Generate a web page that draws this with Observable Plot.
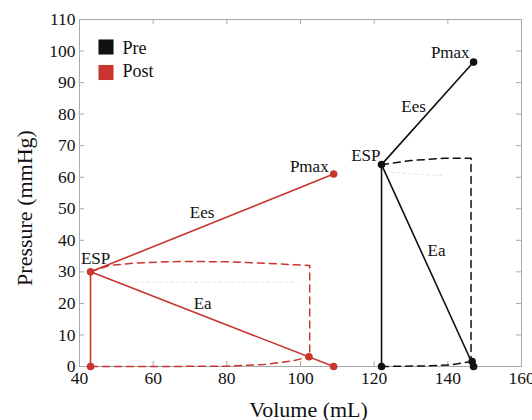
<!DOCTYPE html>
<html><head><meta charset="utf-8">
<script src="https://cdn.jsdelivr.net/npm/d3@7"></script>
<script src="https://cdn.jsdelivr.net/npm/@observablehq/plot@0.6"></script>
<style>body{margin:0;background:#fff}</style>
</head><body><div id="chart"></div>
<script>
const seriesNames = ["Pre", "Post"];
const seriesColors = ["#111111", "#c8362f"];
const xTicks = [40, 60, 80, 100, 120, 140, 160];
const yTicks = [0, 10, 20, 30, 40, 50, 60, 70, 80, 90, 100, 110];

// Pre (black)
const preESP = [122, 64];
const prePmax = [147, 96.5];
const preEaEnd = [147, 0];
const preBase = [122, 0];
const preEdv = [146.6, 1.6];
const preDashTop = [[122, 64], [130, 65.3], [139, 66], [146.3, 66], [146.3, 1.6]];
const preDashBottom = [[122, 0], [134, 0.2], [141, 0.5], [146.3, 1.6]];
const preFaint = [[124.5, 61.6], [132, 60.9], [139, 60.5]];

// Post (red)
const postESP = [43, 30];
const postPmax = [109, 61];
const postEaEnd = [109, 0];
const postBase = [43, 0];
const postEdv = [102.3, 3.1];
const postDashTop = [[43, 30], [48, 32], [55, 32.8], [67, 33.3], [80, 33.2], [91, 32.7], [102.5, 32], [102.5, 3.1]];
const postDashBottom = [[43, 0], [60, 0], [80, 0.1], [90, 0.6], [98, 1.8], [102.5, 3.1]];
const postFaint = [[55, 26.8], [75, 26.6], [99, 26.8]];

const S = {
  Pre: {esp: preESP, pmax: prePmax, eaEnd: preEaEnd, base: preBase, edv: preEdv, top: preDashTop, bottom: preDashBottom, faint: preFaint},
  Post: {esp: postESP, pmax: postPmax, eaEnd: postEaEnd, base: postBase, edv: postEdv, top: postDashTop, bottom: postDashBottom, faint: postFaint}
};

const solid = [], dashed = [], faint = [], points = [], labels = [];
for (const s of seriesNames) {
  const d = S[s];
  [["ees", [d.esp, d.pmax]], ["ea", [d.esp, d.eaEnd]], ["vert", [d.esp, d.base]]].forEach(([k, seg]) =>
    seg.forEach(p => solid.push({series: s, id: s + k, x: p[0], y: p[1]})));
  d.top.forEach(p => dashed.push({series: s, id: s + "top", x: p[0], y: p[1]}));
  d.bottom.forEach(p => dashed.push({series: s, id: s + "bot", x: p[0], y: p[1]}));
  d.faint.forEach(p => faint.push({series: s, id: s + "f", x: p[0], y: p[1]}));
  [d.esp, d.base, d.pmax, d.edv, d.eaEnd].forEach(p => points.push({series: s, x: p[0], y: p[1]}));
  labels.push({series: s, name: "Pmax", x: d.pmax[0], y: d.pmax[1]});
  labels.push({series: s, name: "ESP", x: d.esp[0], y: d.esp[1]});
  labels.push({series: s, name: "Ees", x: (d.esp[0] + d.pmax[0]) / 2, y: (d.esp[1] + d.pmax[1]) / 2});
  labels.push({series: s, name: "Ea", x: (d.esp[0] + d.eaEnd[0]) / 2, y: (d.esp[1] + d.eaEnd[1]) / 2});
}

const W = 532, H = 420, mL = 79, mR = 11, mT = 19, mB = 54;
const fw = W - mL - mR, fh = H - mT - mB;
const font = "'Liberation Serif', 'Times New Roman', serif";

function lab(series, name, opts) {
  return Plot.text(labels.filter(d => d.series === series && d.name === name),
    {x: "x", y: "y", text: "name", fontSize: 17, fill: "#111", lineAnchor: "middle", ...opts});
}
function legendItem(i) {
  const name = seriesNames[i];
  return [
    Plot.dot([name], {frameAnchor: "top-left", dx: 26.5, dy: 27.5 + 25.5 * i, symbol: "square", r: 8.5, fill: seriesColors[i]}),
    Plot.text([name], {frameAnchor: "top-left", dx: 43, dy: 28.5 + 23.5 * i, text: d => d, fontSize: 18, fill: "#111", textAnchor: "start", lineAnchor: "middle"})
  ];
}

const chart = Plot.plot({
  width: W, height: H,
  marginLeft: mL, marginRight: mR, marginTop: mT, marginBottom: mB,
  style: {fontFamily: font, fontSize: "17px", background: "#fff", color: "#111"},
  x: {domain: [40, 160], axis: null},
  y: {domain: [0, 110], axis: null},
  color: {domain: seriesNames, range: seriesColors},
  marks: [
    Plot.frame({stroke: "#aaa"}),
    Plot.text(xTicks, {x: d => d, frameAnchor: "bottom", dy: 5, text: d => String(d), fontSize: 17.5, fill: "#111", textAnchor: "middle", lineAnchor: "top"}),
    Plot.text(yTicks, {y: d => d, frameAnchor: "left", dx: -4, text: d => String(d), fontSize: 17.5, fill: "#111", textAnchor: "end", lineAnchor: "middle"}),
    Plot.tickY(yTicks, {y: d => d, insetRight: fw - 5, stroke: "#aaa"}),
    Plot.tickY(yTicks, {y: d => d, insetLeft: fw - 5, stroke: "#aaa"}),
    Plot.tickX(xTicks, {x: d => d, insetTop: fh - 5, stroke: "#aaa"}),
    Plot.tickX(xTicks, {x: d => d, insetBottom: fh - 5, stroke: "#aaa"}),
    Plot.line(faint, {x: "x", y: "y", z: "id", stroke: "#e4e4e4", strokeWidth: 1, strokeDasharray: "3,3", curve: "basis"}),
    Plot.line(dashed, {x: "x", y: "y", z: "id", stroke: "series", strokeWidth: 1.5, strokeDasharray: "7,5", curve: "linear"}),
    Plot.line(solid, {x: "x", y: "y", z: "id", stroke: "series", strokeWidth: 1.6}),
    Plot.dot(points, {x: "x", y: "y", fill: "series", r: 3.8}),
    lab("Post", "Pmax", {textAnchor: "end", dx: -5, dy: -8}),
    lab("Pre", "Pmax", {textAnchor: "end", dx: -4, dy: -10}),
    lab("Post", "ESP", {textAnchor: "middle", dx: 5, dy: -13.5}),
    lab("Pre", "ESP", {textAnchor: "end", dx: -1, dy: -8.6}),
    lab("Post", "Ees", {textAnchor: "middle", dx: -10, dy: -10}),
    lab("Pre", "Ees", {textAnchor: "middle", dx: -14, dy: -7}),
    lab("Post", "Ea", {textAnchor: "middle", dx: -9.5, dy: -16}),
    lab("Pre", "Ea", {textAnchor: "middle", dx: 9, dy: -15}),
    ...legendItem(0),
    ...legendItem(1),
    Plot.text(["Pressure (mmHg)"], {frameAnchor: "left", rotate: -90, dx: -55, dy: 15, fontSize: 22, fill: "#111", textAnchor: "middle", lineAnchor: "middle"}),
    Plot.text(["Volume (mL)"], {frameAnchor: "bottom", dx: 8, dy: 43, fontSize: 22, fill: "#111", textAnchor: "middle", lineAnchor: "middle"})
  ]
});
document.getElementById("chart").appendChild(chart);
</script>
</body></html>
